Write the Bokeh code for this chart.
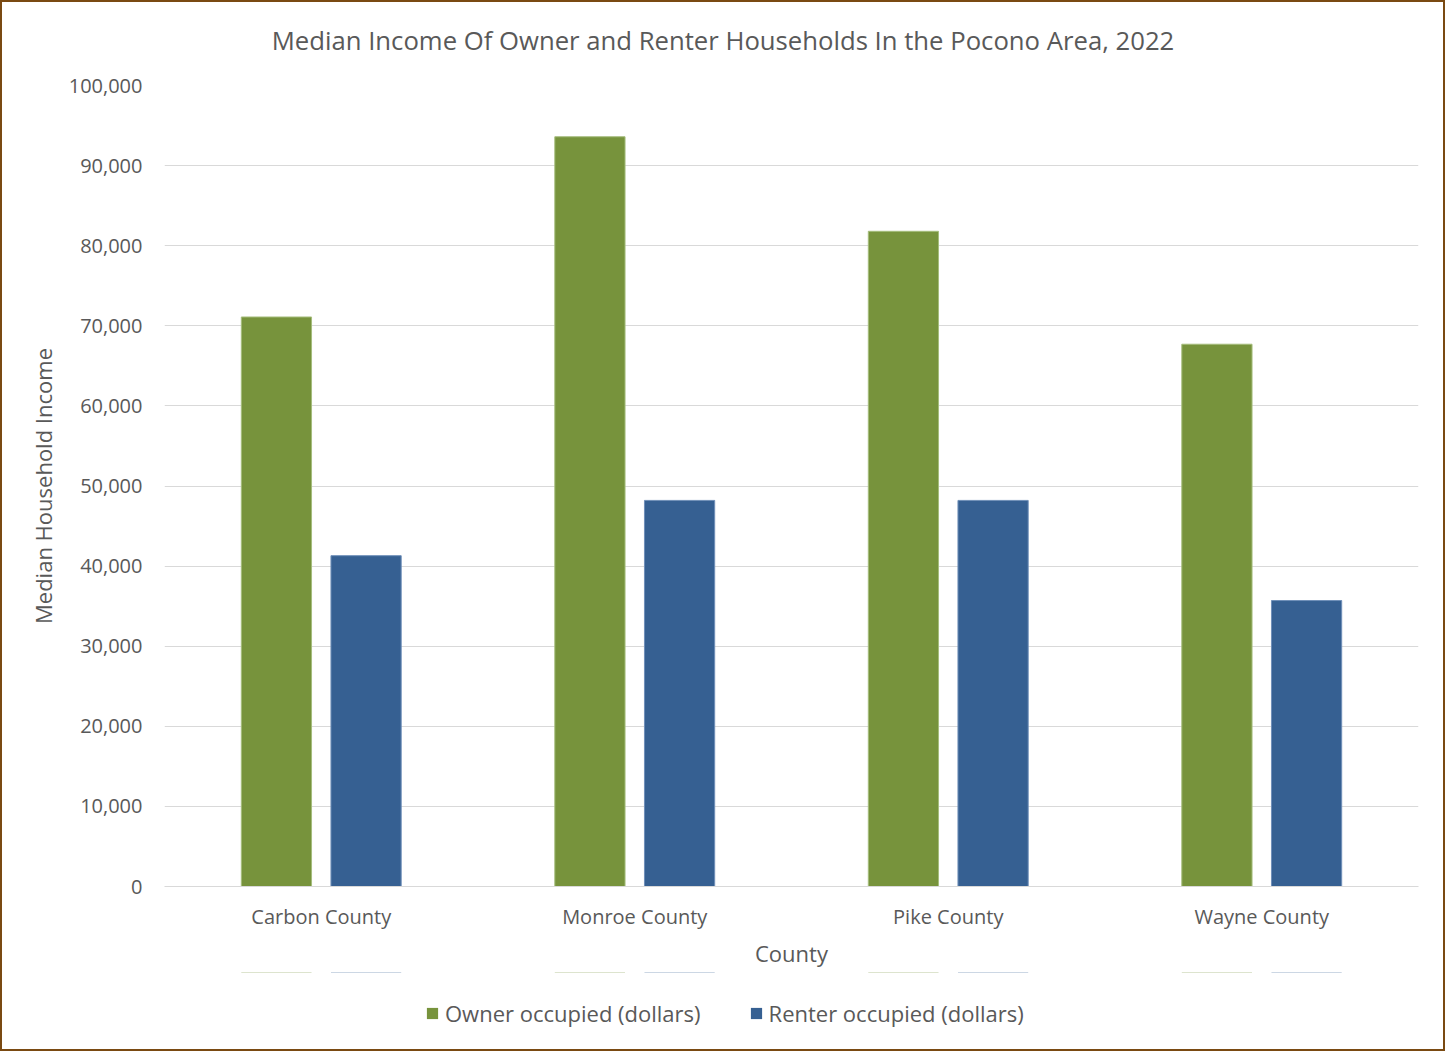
from bokeh.plotting import figure
from bokeh.layouts import column
from bokeh.models import (ColumnDataSource, FactorRange, Range1d, FixedTicker,
                          NumeralTickFormatter, Legend, LegendItem, Label)
from bokeh.transform import dodge
from bokeh.embed import file_html
from bokeh.resources import INLINE

# Median household income by tenure, Pocono area counties, 2022
counties = ["Carbon County", "Monroe County", "Pike County", "Wayne County"]
owner_income = [71100, 93600, 81800, 67700]
renter_income = [41300, 48200, 48200, 35700]
y_ticks = list(range(0, 100001, 10000))

series_names = ["Owner occupied (dollars)", "Renter occupied (dollars)"]
series_colors = ["#77933c", "#366092"]
series_edges = ["#a5bd7c", "#6f8fb8"]

chart_title = "Median Income Of Owner and Renter Households In the Pocono Area, 2022"

TEXT = "#595959"
FONT = "Open Sans"
WIDTH = 1441
FRAME_LEFT, FRAME_RIGHT = 162, 1416   # plot frame edges, shared by every row of the column

source = ColumnDataSource(dict(county=counties, owner=owner_income, renter=renter_income))


def strip(height, **kw):
    """A bare figure with no axes, used for the title and legend rows."""
    f = figure(width=WIDTH, height=height, output_backend="svg", toolbar_location=None,
               x_axis_location=None, y_axis_location=None,
               min_border=0, min_border_left=0, min_border_right=0,
               min_border_top=0, min_border_bottom=0, **kw)
    f.grid.visible = False
    f.outline_line_color = None
    f.background_fill_color = "white"
    f.border_fill_color = "white"
    return f


# title row (x in page pixels)
tp = strip(60, x_range=Range1d(FRAME_LEFT, FRAME_RIGHT), y_range=Range1d(0, 60))
tp.add_layout(Label(x=WIDTH / 2, y=22, text=chart_title, text_align="center",
                    text_baseline="middle", text_font=FONT, text_font_size="25.7px",
                    text_color=TEXT))

# main chart
p = figure(
    width=WIDTH, height=910,
    x_range=FactorRange(*counties, range_padding=0),
    y_range=Range1d(0, 100000),
    output_backend="svg", toolbar_location=None,
    min_border_left=FRAME_LEFT, min_border_right=WIDTH - FRAME_RIGHT,
    min_border_top=23, min_border_bottom=86,
)
p.outline_line_color = None
p.background_fill_color = "white"
p.border_fill_color = "white"

p.vbar(x=dodge("county", -0.143, range=p.x_range), top="owner", width=0.224,
       source=source, fill_color=series_colors[0],
       line_color=series_edges[0], line_width=1)
p.vbar(x=dodge("county", 0.143, range=p.x_range), top="renter", width=0.224,
       source=source, fill_color=series_colors[1],
       line_color=series_edges[1], line_width=1)

p.yaxis.ticker = FixedTicker(ticks=y_ticks)
p.yaxis.formatter = NumeralTickFormatter(format="0,0")
p.yaxis.axis_line_color = None
p.yaxis.major_tick_line_color = None
p.yaxis.minor_tick_line_color = None
p.yaxis.major_tick_out = 0
p.yaxis.major_tick_in = 0
p.yaxis.major_label_standoff = 22
p.yaxis.axis_label = "Median Household Income"
p.yaxis.axis_label_standoff = 8

p.xaxis.axis_line_color = "#d9d9d9"
p.xaxis.axis_line_width = 1
p.xaxis.major_tick_line_color = None
p.xaxis.major_tick_out = 0
p.xaxis.major_tick_in = 0
p.xaxis.major_label_standoff = 16
p.xaxis.axis_label = "County"
p.xaxis.axis_label_standoff = 5

for ax in (p.xaxis, p.yaxis):
    ax.major_label_text_font = FONT
    ax.major_label_text_font_size = "20px"
    ax.major_label_text_color = TEXT
    ax.axis_label_text_font = FONT
    ax.axis_label_text_font_size = "22px"
    ax.axis_label_text_font_style = "normal"
    ax.axis_label_text_color = TEXT

p.xgrid.grid_line_color = None
p.ygrid.ticker = FixedTicker(ticks=y_ticks)
p.ygrid.grid_line_color = "#d9d9d9"
p.ygrid.grid_line_width = 1

# legend row: key glyphs share the chart's data but lie far outside this row's visible range
lp = strip(77, x_range=FactorRange(*counties, range_padding=0), y_range=Range1d(-1000, -999))
key_owner = lp.vbar(x=dodge("county", -0.143, range=lp.x_range), top="owner", width=0.224,
                    source=source, fill_color=series_colors[0], line_color=None)
key_renter = lp.vbar(x=dodge("county", 0.143, range=lp.x_range), top="renter", width=0.224,
                     source=source, fill_color=series_colors[1], line_color=None)

legend = Legend(
    items=[LegendItem(label=series_names[0], renderers=[key_owner]),
           LegendItem(label=series_names[1], renderers=[key_renter])],
    orientation="horizontal",
    location=(261, 21),
    border_line_color=None,
    background_fill_alpha=0,
    label_text_font=FONT,
    label_text_font_size="22px",
    label_text_color=TEXT,
    glyph_width=14, glyph_height=14,
    label_standoff=6, spacing=48,
    padding=5, margin=0,
)
lp.add_layout(legend, "center")

layout = column(tp, p, lp, spacing=0, styles={"border": "2px solid #7a4a12"})

open("out.html", "w").write(file_html(layout, INLINE))
